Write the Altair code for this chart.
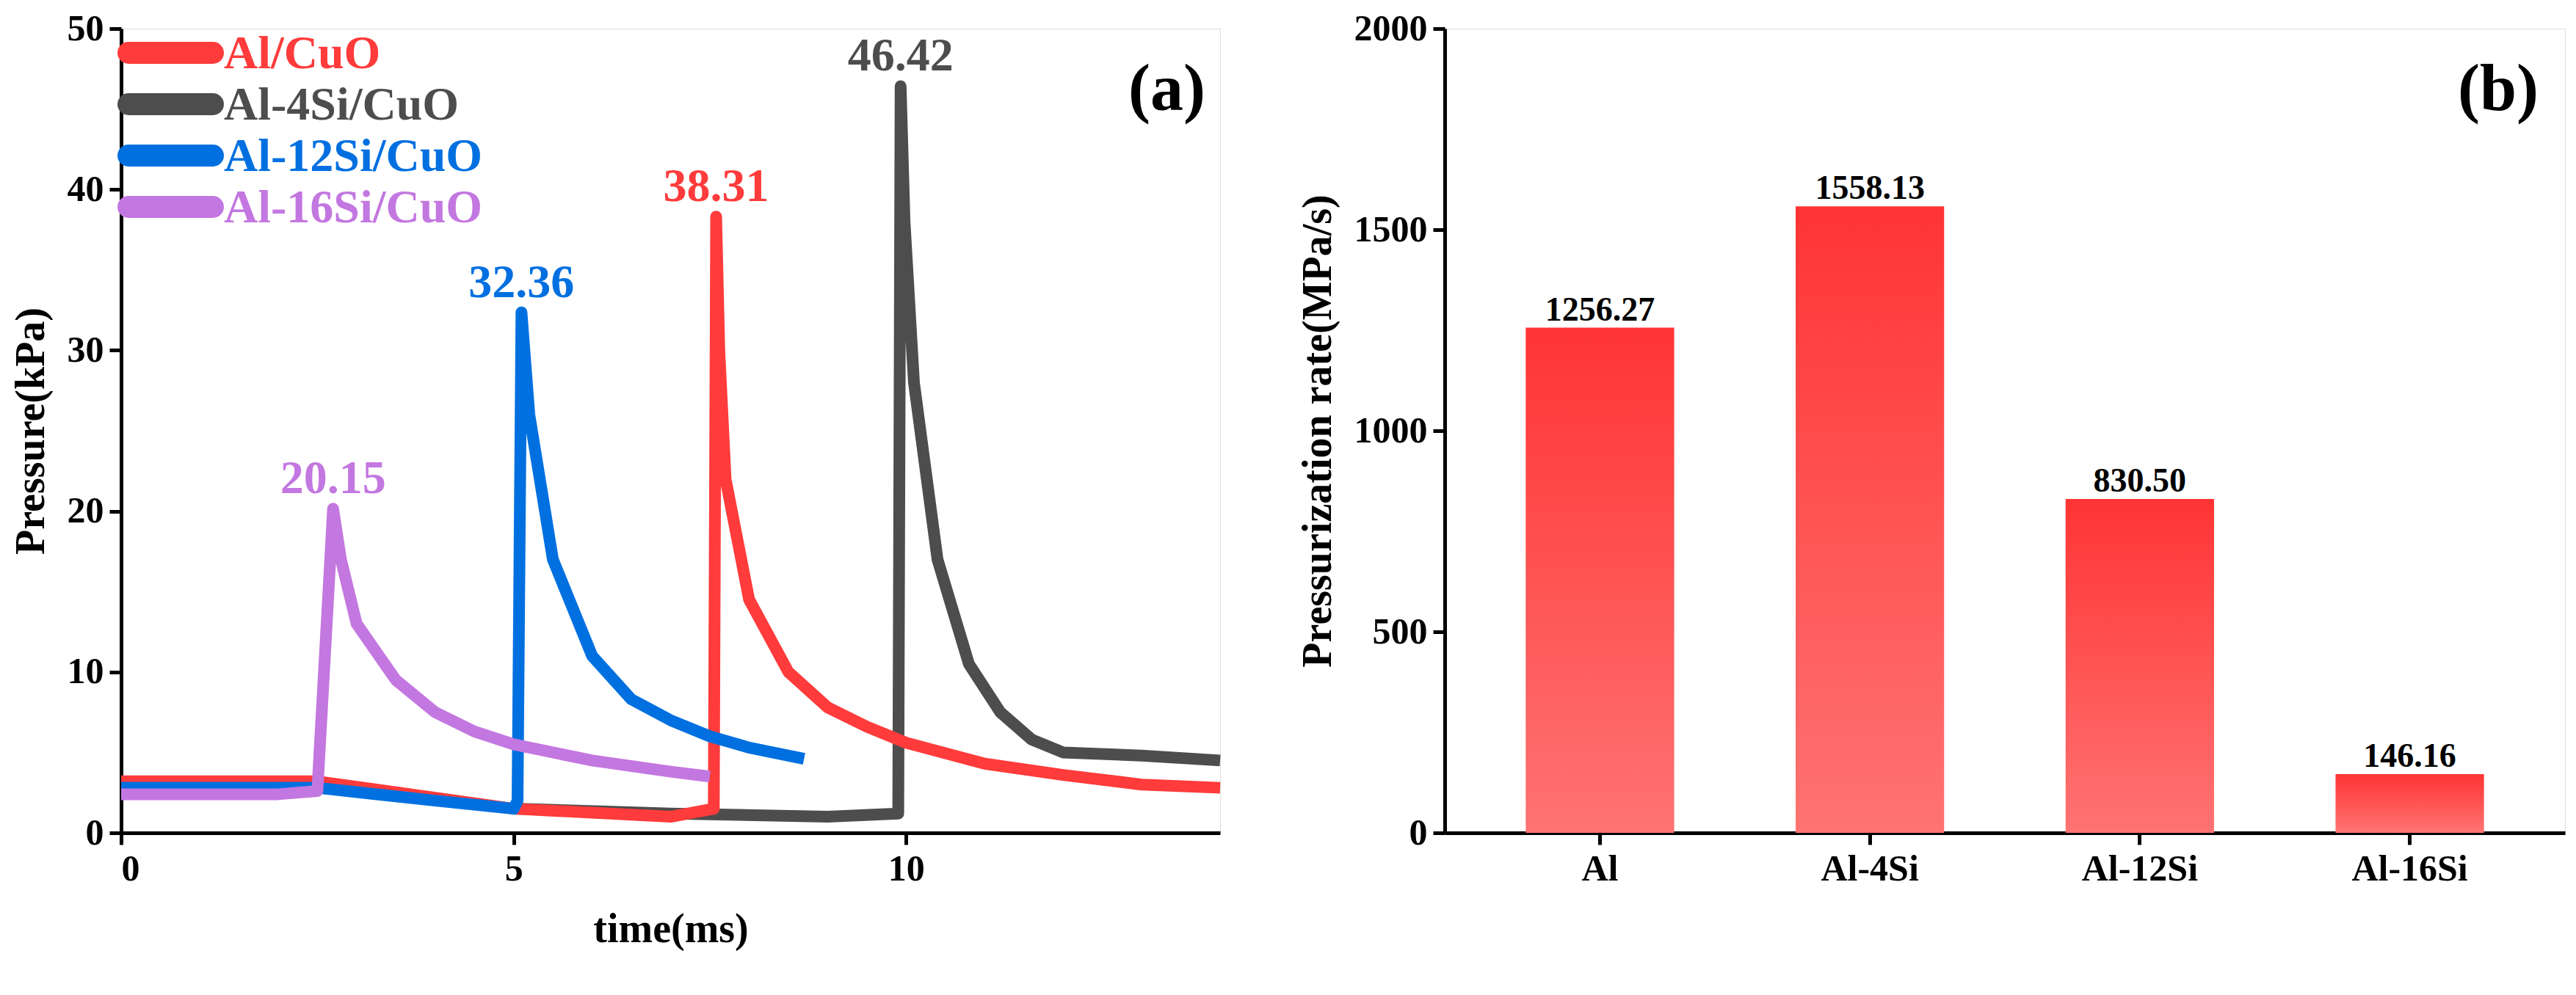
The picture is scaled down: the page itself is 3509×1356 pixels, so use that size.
import altair as alt
import pandas as pd

FONT = "Liberation Serif"

series = ["Al/CuO", "Al-4Si/CuO", "Al-12Si/CuO", "Al-16Si/CuO"]
colors = ["#ff3b3b", "#4d4d4d", "#0070e0", "#c377e0"]

# pressure traces (time ms, pressure kPa)
t_al = [0, 2.5, 5.0, 7.0, 7.55, 7.58, 7.62, 7.7, 8.0, 8.5, 9.0, 9.5, 10.0, 11.0, 12.0, 13.0, 14.0]
p_al = [3.2, 3.2, 1.5, 1.0, 1.5, 38.31, 30.0, 22.0, 14.5, 10.0, 7.8, 6.6, 5.6, 4.3, 3.6, 3.0, 2.8]
t_4si = [5.0, 7.0, 9.0, 9.9, 9.93, 9.98, 10.1, 10.4, 10.8, 11.2, 11.6, 12.0, 13.0, 14.0]
p_4si = [1.5, 1.2, 1.0, 1.2, 46.42, 38.0, 28.0, 17.0, 10.5, 7.5, 5.8, 5.0, 4.8, 4.5]
t_12si = [0, 2.5, 4.0, 5.0, 5.05, 5.1, 5.2, 5.5, 6.0, 6.5, 7.0, 7.5, 8.0, 8.7]
p_12si = [2.8, 2.8, 2.0, 1.5, 2.0, 32.36, 26.0, 17.0, 11.0, 8.3, 7.0, 6.0, 5.3, 4.6]
t_16si = [0, 2.0, 2.5, 2.7, 2.8, 3.0, 3.5, 4.0, 4.5, 5.0, 6.0, 7.0, 7.5]
p_16si = [2.4, 2.4, 2.6, 20.15, 17.0, 13.0, 9.5, 7.5, 6.3, 5.5, 4.5, 3.8, 3.5]

peak_t = [7.58, 9.93, 5.1, 2.7]
peak_p = [38.31, 46.42, 32.36, 20.15]

groups = ["Al", "Al-4Si", "Al-12Si", "Al-16Si"]
rates = [1256.27, 1558.13, 830.50, 146.16]

rows = []
order = [1, 0, 2, 3]  # grey drawn first, purple on top
traces = [(t_al, p_al), (t_4si, p_4si), (t_12si, p_12si), (t_16si, p_16si)]
for i in order:
    for j, (t, p) in enumerate(zip(*traces[i])):
        rows.append({"series": series[i], "t": t, "p": p, "k": j})
trace_df = pd.DataFrame(rows)
peak_df = pd.DataFrame({"series": series, "t": peak_t, "p": peak_p,
                        "lab": [f"{v:.2f}" for v in peak_p]})

cscale = alt.Scale(domain=series, range=colors)

axis_style = dict(labelFont=FONT, titleFont=FONT, labelFontSize=50, titleFontSize=56,
                  labelFontWeight="bold", titleFontWeight="bold", labelColor="black",
                  titleColor="black", domainColor="black", domainWidth=5, tickColor="black",
                  tickWidth=5, tickSize=16, grid=False, labelPadding=8)

W, H = 1497, 1096

lines = alt.Chart(trace_df).mark_line(strokeWidth=16, strokeJoin="round").encode(
    x=alt.X("t:Q", title="time(ms)", scale=alt.Scale(domain=[0, 14], nice=False),
            axis=alt.Axis(values=[0, 5, 10], format="d", titlePadding=30, **axis_style)),
    y=alt.Y("p:Q", title="Pressure(kPa)", scale=alt.Scale(domain=[0, 50]),
            axis=alt.Axis(values=[0, 10, 20, 30, 40, 50], format="d", titlePadding=20, **axis_style)),
    color=alt.Color("series:N", scale=cscale, legend=None),
    detail="series:N",
    order="k:Q",
)
peaks = alt.Chart(peak_df).mark_text(font=FONT, fontSize=64, fontWeight="bold", dy=-40).encode(
    x="t:Q", y="p:Q", text="lab:N", color=alt.Color("series:N", scale=cscale, legend=None))

legend_layers = []
for i, s in enumerate(series):
    yy = 33 + 70 * i
    one = pd.DataFrame({"series": [s]})
    legend_layers.append(alt.Chart(one).mark_rule(strokeWidth=30, strokeCap="round").encode(
        x=alt.value(10), x2=alt.value(125), y=alt.value(yy),
        color=alt.Color("series:N", scale=cscale, legend=None)))
    legend_layers.append(alt.Chart(one).mark_text(
        font=FONT, fontSize=64, fontWeight="bold", align="left", baseline="middle").encode(
        x=alt.value(140), y=alt.value(yy + 2), text="series:N",
        color=alt.Color("series:N", scale=cscale, legend=None)))

tag_a = alt.Chart(pd.DataFrame({"s": ["(a)"]})).mark_text(
    font=FONT, fontSize=90, fontWeight="bold", align="right", baseline="top").encode(
    x=alt.value(W - 20), y=alt.value(40), text="s:N")

left = alt.layer(lines, peaks, *legend_layers, tag_a).properties(width=W, height=H)

bar_df = pd.DataFrame({"g": groups, "r": rates, "lab": [f"{v:.2f}" for v in rates]})
grad = alt.Gradient(gradient="linear", x1=0, y1=0, x2=0, y2=1,
                    stops=[alt.GradientStop(color="#ff3434", offset=0),
                           alt.GradientStop(color="#ff7373", offset=1)])
bx = alt.X("g:N", sort=groups, title=None,
           scale=alt.Scale(paddingInner=0.45, paddingOuter=0.3),
           axis=alt.Axis(labelAngle=0, **axis_style))
bars = alt.Chart(bar_df).mark_bar(color=grad).encode(
    x=bx,
    y=alt.Y("r:Q", title="Pressurization rate(MPa/s)", scale=alt.Scale(domain=[0, 2000]),
            axis=alt.Axis(values=[0, 500, 1000, 1500, 2000], format="d", titlePadding=20, **axis_style)),
)
bar_lab = alt.Chart(bar_df).mark_text(font=FONT, fontSize=46, fontWeight="bold", dy=-24).encode(
    x=bx, y="r:Q", text="lab:N")
tag_b = alt.Chart(pd.DataFrame({"s": ["(b)"]})).mark_text(
    font=FONT, fontSize=90, fontWeight="bold", align="right", baseline="top").encode(
    x=alt.value(1490), y=alt.value(40), text="s:N")
right = alt.layer(bars, bar_lab, tag_b).properties(width=1526, height=H)

chart = alt.hconcat(left, right, spacing=95).configure_view(
    stroke="black", strokeWidth=5).configure(background="white")
chart.save("out.html", embed_options={"renderer": "svg", "actions": False})
